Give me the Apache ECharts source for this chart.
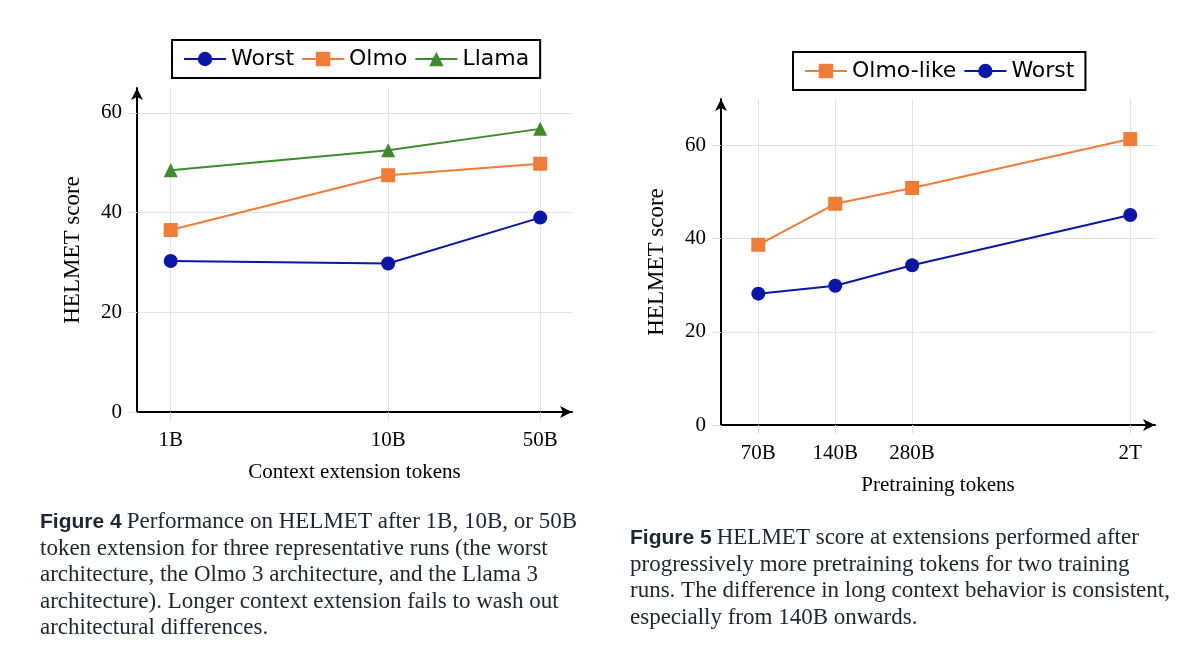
<!DOCTYPE html>
<html>
<head>
<meta charset="utf-8">
<script src="https://cdn.jsdelivr.net/npm/echarts@6.0.0/dist/echarts.min.js"></script>
<style>
  html, body { margin: 0; padding: 0; background: #fff; }
  #chart { width: 1200px; height: 655px; }
</style>
</head>
<body>
<div id="chart"></div>
<script>
// Figure 4: context extension tokens (billions)
const ctxTokens = [1, 10, 50];
const ctxTickLabels = ['1B', '10B', '50B'];
const worstCtx = [30.3, 29.8, 39.0];
const olmoCtx = [36.5, 47.5, 49.8];
const llamaCtx = [48.5, 52.5, 56.8];

// Figure 5: pretraining tokens (billions)
const preTokens = [70, 140, 280, 2000];
const preTickLabels = ['70B', '140B', '280B', '2T'];
const olmoLikePre = [38.7, 47.5, 50.9, 61.4];
const worstPre = [28.2, 29.9, 34.3, 45.1];

const yTicks = [0, 20, 40, 60];

const BLUE = '#0a16a8';
const ORANGE = '#f07c36';
const GREEN = '#3d8b2b';
const GRID_GRAY = '#e3e3e3';
const SERIF = '"Liberation Serif", "DejaVu Serif", serif';
const SANS = '"DejaVu Sans", "Liberation Sans", sans-serif';
const CAPTION = '#1b2631';

function pairs(xs, ys) {
  return xs.map((x, i) => [x, ys[i]]);
}

function tickLabel(values, labels) {
  return (v) => {
    for (let i = 0; i < values.length; i++) {
      if (Math.abs(Math.log(v / values[i])) < 1e-6) return labels[i];
    }
    return '';
  };
}

function xAxisOpt(gridIndex, min, max, values, labels, name) {
  return {
    type: 'log',
    gridIndex: gridIndex,
    min: min,
    max: max,
    name: name,
    nameLocation: 'middle',
    nameGap: 50,
    nameTextStyle: {fontFamily: SERIF, fontSize: 21, color: '#000'},
    axisLine: {
      onZero: false,
      lineStyle: {color: '#000', width: 2},
      symbol: ['none', 'arrow'],
      symbolSize: [9, 12]
    },
    axisTick: {show: true, inside: false, length: 9, customValues: values,
      lineStyle: {color: GRID_GRAY}},
    axisLabel: {customValues: values, formatter: tickLabel(values, labels),
      margin: 18, fontFamily: SERIF, fontSize: 21, color: '#000'},
    splitLine: {show: true, lineStyle: {color: GRID_GRAY, width: 1}},
    minorTick: {show: false},
    minorSplitLine: {show: false}
  };
}

function yAxisOpt(gridIndex, max) {
  return {
    type: 'value',
    gridIndex: gridIndex,
    min: 0,
    max: max,
    interval: 20,
    name: 'HELMET score',
    nameLocation: 'middle',
    nameGap: 53,
    nameTextStyle: {fontFamily: SERIF, fontSize: 23, color: '#000'},
    axisLine: {
      show: true,
      onZero: false,
      lineStyle: {color: '#000', width: 2},
      symbol: ['none', 'arrow'],
      symbolSize: [9, 12]
    },
    axisTick: {show: true, inside: false, length: 9, customValues: yTicks,
      lineStyle: {color: GRID_GRAY}},
    axisLabel: {customValues: yTicks, margin: 15, fontFamily: SERIF, fontSize: 21, color: '#000'},
    splitLine: {show: true, lineStyle: {color: GRID_GRAY, width: 1}}
  };
}

function lineSeries(name, idx, data, color, symbol) {
  return {
    name: name,
    type: 'line',
    xAxisIndex: idx,
    yAxisIndex: idx,
    data: data,
    symbol: symbol,
    symbolSize: 14,
    showAllSymbol: true,
    lineStyle: {color: color, width: 2},
    itemStyle: {color: color},
    emphasis: {disabled: true},
    z: 3
  };
}

function legendOpt(left, top, names) {
  return {
    left: left,
    top: top,
    orient: 'horizontal',
    data: names,
    padding: [8, 11, 8, 11],
    borderColor: '#000',
    borderWidth: 2,
    borderRadius: 0,
    itemWidth: 42,
    itemHeight: 18,
    itemGap: 7,
    selectedMode: false,
    textStyle: {fontFamily: SANS, fontSize: 22, color: '#000'}
  };
}

function captionRich() {
  return {
    fig: {fontFamily: '"Liberation Sans", sans-serif', fontWeight: 'bold', fontSize: 21,
      color: CAPTION, lineHeight: 26.5},
    t: {fontFamily: SERIF, fontWeight: 'normal', fontSize: 23, color: CAPTION, lineHeight: 26.5}
  };
}

const chart = echarts.init(document.getElementById('chart'), null, {renderer: 'canvas'});

chart.setOption({
  backgroundColor: '#fff',
  animation: false,
  title: [
    {
      left: 40,
      top: 509,
      padding: 0,
      text: [
        '{fig|Figure 4} {t|Performance on HELMET after 1B, 10B, or 50B}',
        '{t|token extension for three representative runs (the worst}',
        '{t|architecture, the Olmo 3 architecture, and the Llama 3}',
        '{t|architecture). Longer context extension fails to wash out}',
        '{t|architectural differences.}'
      ].join('\n'),
      textStyle: {fontWeight: 'normal', rich: captionRich()}
    },
    {
      left: 630,
      top: 525,
      padding: 0,
      text: [
        '{fig|Figure 5} {t|HELMET score at extensions performed after}',
        '{t|progressively more pretraining tokens for two training}',
        '{t|runs. The difference in long context behavior is consistent,}',
        '{t|especially from 140B onwards.}'
      ].join('\n'),
      textStyle: {fontWeight: 'normal', rich: captionRich()}
    }
  ],
  legend: [
    legendOpt(172, 40, ['Worst', 'Olmo', 'Llama']),
    legendOpt(793, 52, ['Olmo-like', 'Worst'])
  ],
  grid: [
    {left: 137, top: 88, width: 435, height: 324, outerBoundsMode: 'none'},
    {left: 721, top: 99, width: 434, height: 326, outerBoundsMode: 'none'}
  ],
  xAxis: [
    xAxisOpt(0, 0.7, 70, ctxTokens, ctxTickLabels, 'Context extension tokens'),
    xAxisOpt(1, 50, 2500, preTokens, preTickLabels, 'Pretraining tokens')
  ],
  yAxis: [
    yAxisOpt(0, 65),
    yAxisOpt(1, 70)
  ],
  series: [
    lineSeries('Worst', 0, pairs(ctxTokens, worstCtx), BLUE, 'circle'),
    lineSeries('Olmo', 0, pairs(ctxTokens, olmoCtx), ORANGE, 'rect'),
    lineSeries('Llama', 0, pairs(ctxTokens, llamaCtx), GREEN, 'triangle'),
    lineSeries('Olmo-like', 1, pairs(preTokens, olmoLikePre), ORANGE, 'rect'),
    lineSeries('Worst', 1, pairs(preTokens, worstPre), BLUE, 'circle')
  ]
});
</script>
</body>
</html>
